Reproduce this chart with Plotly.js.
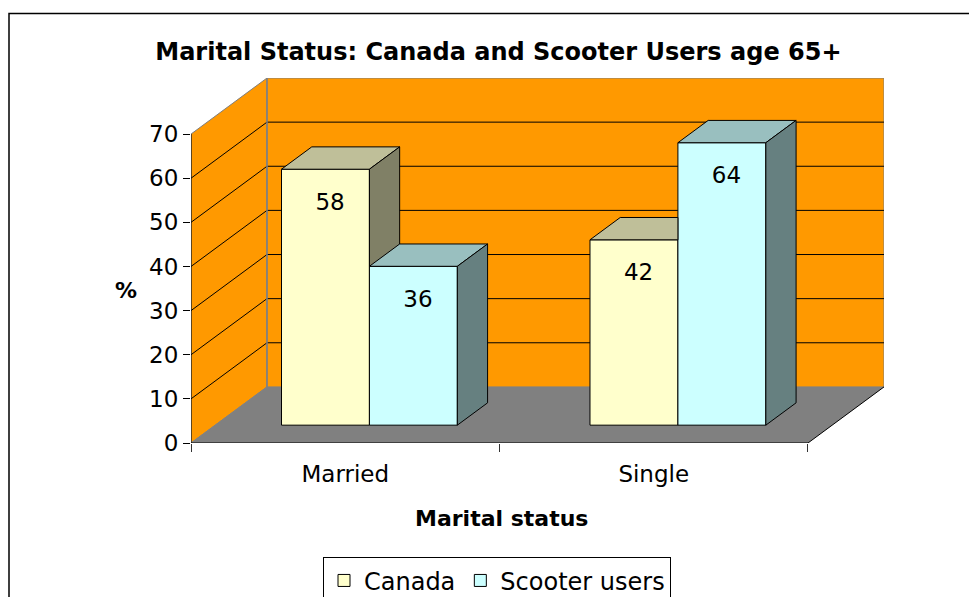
<!DOCTYPE html>
<html>
<head>
<meta charset="utf-8">
<script src="https://cdn.plot.ly/plotly-3.0.1.min.js"></script>
<style>
  html, body { margin: 0; padding: 0; background: #ffffff; }
  #chart { width: 969px; height: 597px; }
</style>
</head>
<body>
<div id="chart"></div>
<script>
// ---------------- data ----------------
const categories = ['Married', 'Single'];
const seriesNames = ['Canada', 'Scooter users'];
const canada = [58, 42];
const scooter = [36, 64];
const yTickValues = [0, 10, 20, 30, 40, 50, 60, 70];
const chartTitle = 'Marital Status: Canada and Scooter Users age 65+';
const xTitle = 'Marital status';
const yTitle = '%';

// ---------------- pseudo-3D geometry (style) ----------------
const Y_MAX = 70;
const DXF = 0.2464;   // full depth shift in category units
const DYF = 12.71;    // full depth shift in value units
const F1 = 0.318;     // bar front plane depth fraction
const F2 = 0.716;     // bar back plane depth fraction
const BAR_W = 0.285;  // width of each bar (category units)
const DX1 = F1 * DXF, DY1 = F1 * DYF, DX2 = F2 * DXF, DY2 = F2 * DYF;
const NCAT = categories.length;

const FONT = 'DejaVu Sans';
const colors = {
  front: ['#FFFFCC', '#CCFFFF'],
  top:   ['#BFBF99', '#99BFBF'],
  side:  ['#808066', '#668080'],
  wall: '#FF9900', floor: '#808080', edge: '#808080'
};

// Sutherland-Hodgman clipping against one half-plane
function clipPoly(poly, inside, intersect) {
  const out = [];
  for (let i = 0; i < poly.length; i++) {
    const cur = poly[i], prev = poly[(i + poly.length - 1) % poly.length];
    const cIn = inside(cur), pIn = inside(prev);
    if (cIn) {
      if (!pIn) out.push(intersect(prev, cur));
      out.push(cur);
    } else if (pIn) {
      out.push(intersect(prev, cur));
    }
  }
  return out;
}
function clipYmin(poly, yMin) {
  return clipPoly(poly, p => p[1] >= yMin - 1e-9, (a, b) => {
    const t = (yMin - a[1]) / (b[1] - a[1]);
    return [a[0] + t * (b[0] - a[0]), yMin];
  });
}
function clipXmax(poly, xMax) {
  return clipPoly(poly, p => p[0] <= xMax + 1e-9, (a, b) => {
    const t = (xMax - a[0]) / (b[0] - a[0]);
    return [xMax, a[1] + t * (b[1] - a[1])];
  });
}
function polyTrace(poly, fill) {
  const xs = poly.map(p => p[0]), ys = poly.map(p => p[1]);
  xs.push(poly[0][0]); ys.push(poly[0][1]);
  return {
    type: 'scatter', mode: 'lines', x: xs, y: ys, fill: 'toself',
    fillcolor: fill, line: { color: '#000000', width: 1 },
    showlegend: false, hoverinfo: 'skip'
  };
}

// ---------------- traces ----------------
const traces = [];
const seriesVals = [canada, scooter];

// front faces as bars
seriesVals.forEach((vals, s) => {
  traces.push({
    type: 'bar',
    name: seriesNames[s],
    x: categories.map((c, i) => i + 0.5 + (s === 0 ? -BAR_W / 2 : BAR_W / 2) + DX1),
    y: vals,
    base: vals.map(() => DY1),
    width: BAR_W,
    marker: { color: colors.front[s], line: { color: '#000000', width: 1 } },
    hoverinfo: 'skip'
  });
});

// top and side faces (painter's order, hidden parts clipped)
categories.forEach((c, i) => {
  const xl = i + 0.5 - BAR_W, xm = i + 0.5, xr = i + 0.5 + BAR_W;
  const v = canada[i], s = scooter[i];
  const cTop = [[xl + DX1, v + DY1], [xm + DX1, v + DY1], [xm + DX2, v + DY2], [xl + DX2, v + DY2]];
  if (v >= s) {
    traces.push(polyTrace(cTop, colors.top[0]));
  } else {
    const p1 = clipXmax(cTop, xm + DX1);
    if (p1.length >= 3) traces.push(polyTrace(p1, colors.top[0]));
    const p2 = clipYmin(cTop, s + DY1);
    if (p2.length >= 3) traces.push(polyTrace(p2, colors.top[0]));
  }
  const cSide = [[xm + DX1, DY1], [xm + DX1, v + DY1], [xm + DX2, v + DY2], [xm + DX2, DY2]];
  const cs = clipYmin(cSide, s + DY1);
  if (cs.length >= 3) traces.push(polyTrace(cs, colors.side[0]));
  traces.push(polyTrace([[xm + DX1, s + DY1], [xr + DX1, s + DY1], [xr + DX2, s + DY2], [xm + DX2, s + DY2]], colors.top[1]));
  traces.push(polyTrace([[xr + DX1, DY1], [xr + DX1, s + DY1], [xr + DX2, s + DY2], [xr + DX2, DY2]], colors.side[1]));
});

// data labels
const lx = [], ly = [], lt = [];
categories.forEach((c, i) => {
  [canada[i], scooter[i]].forEach((v, s) => {
    lx.push(i + 0.5 + (s === 0 ? -BAR_W / 2 : BAR_W / 2) + DX1 + 0.015);
    ly.push(v + DY1 - 7.9);
    lt.push(String(v));
  });
});
traces.push({
  type: 'scatter', mode: 'text', x: lx, y: ly, text: lt,
  textposition: 'middle center', cliponaxis: false,
  textfont: { family: FONT, size: 23, color: '#000000' },
  showlegend: false, hoverinfo: 'skip'
});

// ---------------- walls, floor, gridlines ----------------
const shapes = [];
shapes.push({ type: 'path', xref: 'x', yref: 'y', layer: 'below',
  path: `M 0,0 L 0,${Y_MAX} L ${DXF},${Y_MAX + DYF} L ${DXF},${DYF} Z`,
  fillcolor: colors.wall, line: { color: colors.edge, width: 1 } });
shapes.push({ type: 'rect', xref: 'x', yref: 'y', layer: 'below',
  x0: DXF, x1: NCAT + DXF, y0: DYF, y1: Y_MAX + DYF,
  fillcolor: colors.wall, line: { color: colors.edge, width: 1 } });
shapes.push({ type: 'path', xref: 'x', yref: 'y', layer: 'below',
  path: `M 0,0 L ${NCAT},0 L ${NCAT + DXF},${DYF} L ${DXF},${DYF} Z`,
  fillcolor: colors.floor, line: { width: 0 } });
yTickValues.forEach(k => {
  if (k === 0 || k === Y_MAX) return;
  shapes.push({ type: 'line', xref: 'x', yref: 'y', layer: 'below',
    x0: DXF, x1: NCAT + DXF, y0: k + DYF, y1: k + DYF, line: { color: '#000000', width: 1 } });
  shapes.push({ type: 'line', xref: 'x', yref: 'y', layer: 'below',
    x0: 0, x1: DXF, y0: k, y1: k + DYF, line: { color: '#000000', width: 1 } });
});
shapes.push({ type: 'line', xref: 'x', yref: 'y', layer: 'below',
  x0: DXF, x1: DXF, y0: DYF, y1: Y_MAX + DYF, line: { color: colors.edge, width: 1.5 } });
shapes.push({ type: 'line', xref: 'x', yref: 'y', layer: 'below',
  x0: 0, x1: DXF, y0: 0, y1: DYF, line: { color: colors.edge, width: 1 } });
shapes.push({ type: 'line', xref: 'x', yref: 'y', layer: 'below',
  x0: 0, x1: 0, y0: 0, y1: Y_MAX, line: { color: '#000000', width: 1 } });
shapes.push({ type: 'line', xref: 'x', yref: 'y', layer: 'below',
  x0: 0, x1: NCAT, y0: 0, y1: 0, line: { color: '#000000', width: 1.2 } });
shapes.push({ type: 'line', xref: 'x', yref: 'y', layer: 'below',
  x0: NCAT, x1: NCAT + DXF, y0: 0, y1: DYF, line: { color: '#000000', width: 1 } });
shapes.push({ type: 'rect', xref: 'paper', yref: 'paper', layer: 'above',
  x0: (9 - 191) / 693, x1: 1.5, y0: -1, y1: (443.5 - 13.5) / 365.5,
  fillcolor: 'rgba(0,0,0,0)', line: { color: '#000000', width: 1.5 } });

const layout = {
  width: 969, height: 597,
  margin: { l: 191, r: 85, t: 78, b: 153.5, pad: 0, autoexpand: false },
  paper_bgcolor: '#ffffff', plot_bgcolor: '#ffffff',
  font: { family: FONT, color: '#000000', size: 23 },
  title: {
    text: chartTitle, xref: 'container', yref: 'container',
    x: 498.4 / 969, xanchor: 'center', y: 1 - 52 / 597, yanchor: 'middle',
    font: { family: FONT, size: 24, weight: 'bold', color: '#000000' }
  },
  barmode: 'overlay',
  showlegend: true,
  legend: {
    orientation: 'h', x: (497 - 191) / 693, xanchor: 'center',
    y: (443.5 - 558) / 365.5, yanchor: 'top',
    bordercolor: '#000000', borderwidth: 1, bgcolor: '#ffffff',
    font: { family: FONT, size: 24, color: '#000000' },
    traceorder: 'normal'
  },
  xaxis: {
    type: 'linear', range: [0, NCAT + DXF], fixedrange: true,
    showgrid: false, zeroline: false, showline: false,
    tickmode: 'array', tickvals: categories.map((c, i) => i + 0.5), ticktext: categories,
    ticks: '', ticklabelstandoff: 15,
    tickfont: { family: FONT, size: 23, color: '#000000' },
    minor: { tickmode: 'linear', tick0: 0, dtick: 1, ticks: 'outside', ticklen: 8, tickcolor: '#333333', tickwidth: 1, showgrid: false }
  },
  yaxis: {
    range: [0, Y_MAX + DYF], fixedrange: true,
    showgrid: false, zeroline: false, showline: false,
    tickmode: 'array', tickvals: yTickValues,
    ticks: 'outside', ticklen: 7, tickcolor: '#000000', tickwidth: 1,
    tickfont: { family: FONT, size: 23, color: '#000000' }
  },
  shapes: shapes,
  annotations: [
    { text: yTitle, xref: 'paper', yref: 'paper', x: (126 - 191) / 693, y: (443.5 - 291) / 365.5,
      xanchor: 'center', yanchor: 'middle', showarrow: false,
      font: { family: FONT, size: 22, weight: 'bold', color: '#000000' } },
    { text: xTitle, xref: 'paper', yref: 'paper', x: (501.5 - 191) / 693, y: (443.5 - 519) / 365.5,
      xanchor: 'center', yanchor: 'middle', showarrow: false,
      font: { family: FONT, size: 22, weight: 'bold', color: '#000000' } }
  ]
};

Plotly.newPlot('chart', traces, layout, { staticPlot: true, displayModeBar: false });
</script>
</body>
</html>
